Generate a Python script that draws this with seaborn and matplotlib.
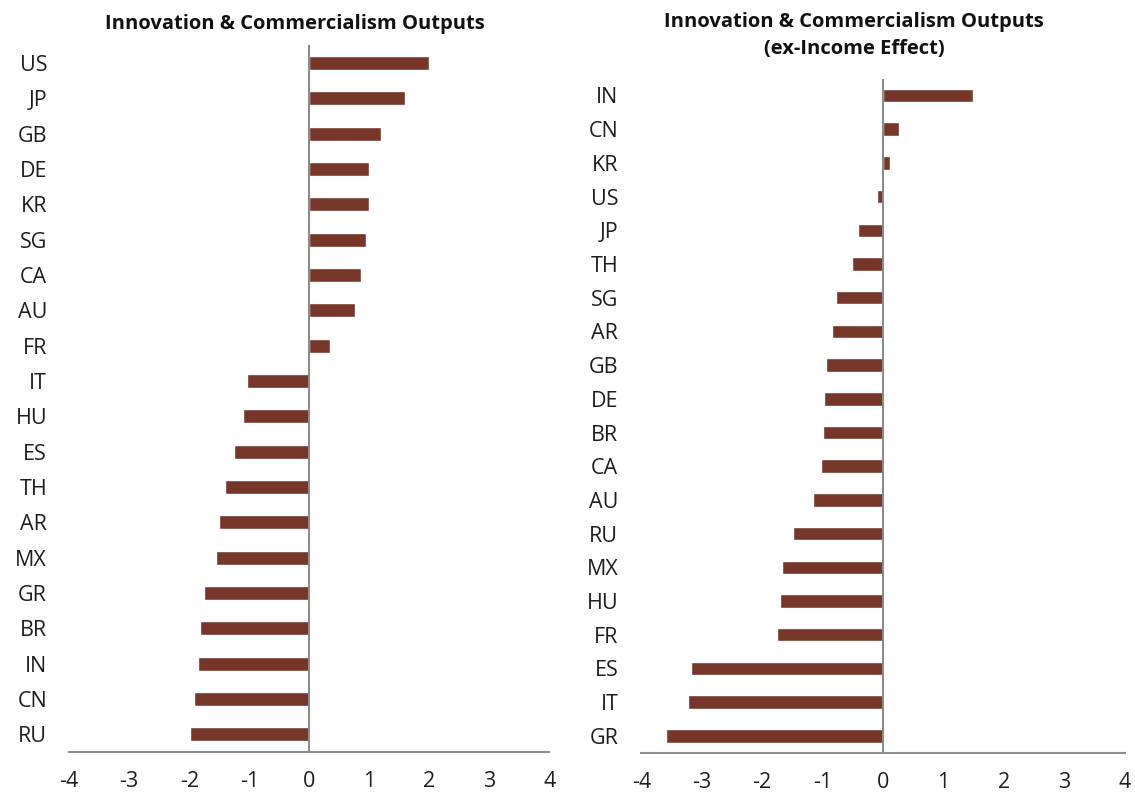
import pandas as pd
import numpy as np
import seaborn as sns
import matplotlib.pyplot as plt

# left panel: raw outputs
left_countries = ["US", "JP", "GB", "DE", "KR", "SG", "CA", "AU", "FR", "IT",
                  "HU", "ES", "TH", "AR", "MX", "GR", "BR", "IN", "CN", "RU"]
left_values = [2.0, 1.6, 1.19, 1.0, 0.99, 0.94, 0.87, 0.77, 0.35, -1.04,
               -1.11, -1.26, -1.41, -1.50, -1.56, -1.76, -1.82, -1.85, -1.92, -1.98]

# right panel: ex-income effect
right_countries = ["IN", "CN", "KR", "US", "JP", "TH", "SG", "AR", "GB", "DE",
                   "BR", "CA", "AU", "RU", "MX", "HU", "FR", "ES", "IT", "GR"]
right_values = [1.49, 0.26, 0.11, -0.10, -0.41, -0.52, -0.77, -0.85, -0.95, -0.97,
                -1.0, -1.02, -1.16, -1.49, -1.67, -1.70, -1.75, -3.18, -3.23, -3.59]

titles = ["Innovation & Commercialism Outputs",
          "Innovation & Commercialism Outputs\n(ex-Income Effect)"]
xticks = [-4, -3, -2, -1, 0, 1, 2, 3, 4]

sns.set_theme(style="white")
plt.rcParams["font.family"] = ["Open Sans", "DejaVu Sans"]

bar_color = "#763629"
axis_grey = "#8c8c8c"

fig = plt.figure(figsize=(11.35, 7.94), dpi=100)
ax1 = fig.add_axes([0.061, 0.053, 0.423, 0.890])
ax2 = fig.add_axes([0.565, 0.052, 0.426, 0.849])

# axes, countries, values, label pad, title x, title pad
panels = [(ax1, left_countries, left_values, 16, 0.47, 12),
          (ax2, right_countries, right_values, 16.5, 0.44, 18)]

for i, (ax, cats, vals, pad, tx, tpad) in enumerate(panels):
    df = pd.DataFrame({"country": cats, "value": vals})
    sns.barplot(data=df, x="value", y="country", orient="h", color=bar_color,
                width=0.4, ax=ax, saturation=1)
    ax.set_xlim(-4, 4)
    ax.set_xticks(xticks)
    ax.set_xticklabels([str(t) for t in xticks])
    ax.set_xlabel("")
    ax.set_ylabel("")
    for s in ["top", "right", "left"]:
        ax.spines[s].set_visible(False)
    ax.spines["bottom"].set_color(axis_grey)
    ax.spines["bottom"].set_linewidth(1.5)
    ax.axvline(0, color=axis_grey, lw=1.5, zorder=3)
    ax.tick_params(axis="y", length=0, pad=pad, labelsize=15.5, labelcolor="#1e1e1e")
    ax.tick_params(axis="x", length=0, pad=14, labelsize=15.5, labelcolor="#1e1e1e")
    ax.set_title(titles[i], fontsize=14.5, fontweight="bold", x=tx, pad=tpad,
                 color="#111111", linespacing=1.45)

fig.savefig("out.png", dpi=100)
